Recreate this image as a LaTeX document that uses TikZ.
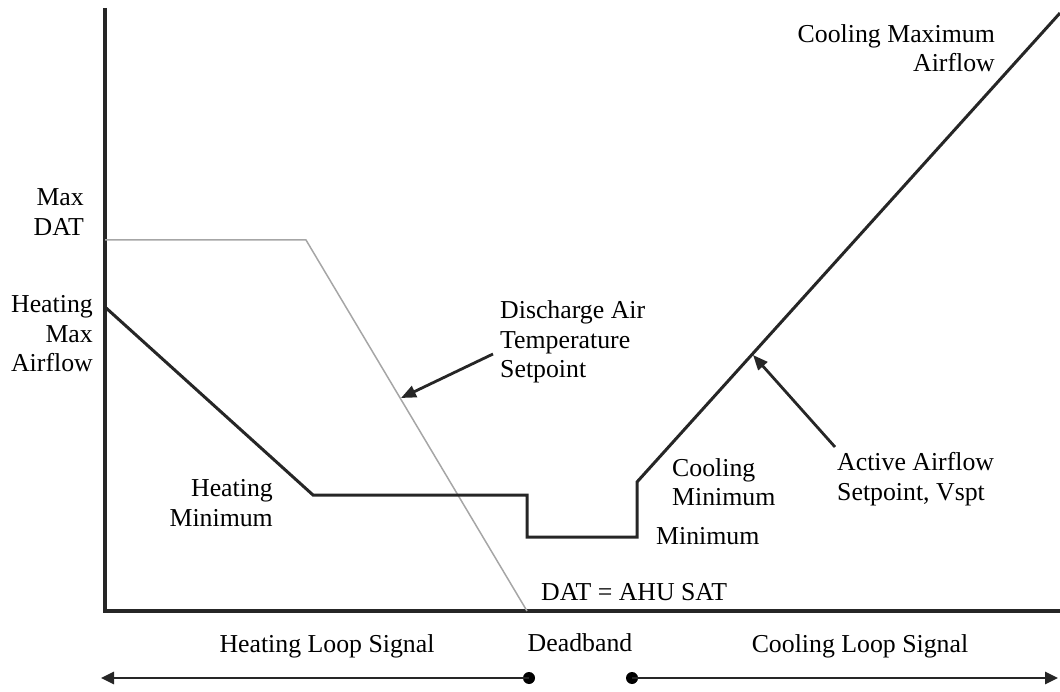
\documentclass[tikz,border=0pt]{standalone}
\usepackage{fontspec}
\setmainfont{Liberation Serif}
\usetikzlibrary{arrows.meta}
\begin{document}
\begin{tikzpicture}[x=1pt,y=-1pt,
  lbl/.style={inner sep=0pt,font=\fontsize{25.8}{29.5}\selectfont},
  axisline/.style={line width=3.2pt,black!85},
  curve/.style={line width=3pt,black!85,line join=miter},
  datline/.style={line width=1.5pt,black!35},
  pointer/.style={line width=2.8pt,black!85,-{Triangle[length=15pt,width=12pt]}},
  spanarrow/.style={line width=2.8pt,black!85,-{Triangle[length=13pt,width=12pt]}},
  enddot/.style={circle,fill=black,inner sep=0pt,minimum size=12pt}]
\useasboundingbox (0,0) rectangle (1060,692);
% axes
\coordinate (ytop) at (105,8);
\coordinate (orig) at (105,611);
\coordinate (xend) at (1060,611);
\draw[axisline] (ytop) -- (orig) -- (xend);
% discharge air temperature line
\coordinate (d1) at (105,240);
\coordinate (d2) at (306,240);
\coordinate (d3) at (527,611);
\draw[datline] (d1) -- (d2) -- (d3);
% airflow setpoint line
\coordinate (a1) at (105,307);
\coordinate (a2) at (313,495);
\coordinate (a3) at (527,495);
\coordinate (a4) at (527,537);
\coordinate (a5) at (637,537);
\coordinate (a6) at (637,482);
\coordinate (a7) at (1060,13);
\draw[curve] (a1) -- (a2) -- (a3) -- (a4) -- (a5) -- (a6) -- (a7);
% labels
\node[lbl,align=right,anchor=east] (maxdat) at (84,212) {Max\\DAT};
\node[lbl,align=right,anchor=east] (hmax) at (93,334) {Heating\\Max\\Airflow};
\node[lbl,align=left,anchor=west] (dats) at (500,342) {Discharge Air\\Temperature\\Setpoint};
\node[lbl,align=right,anchor=east] (hmin) at (273,503) {Heating\\Minimum};
\node[lbl,align=left,anchor=west] (cmin) at (672,482) {Cooling\\Minimum};
\node[lbl,anchor=west] (mini) at (656,536) {Minimum};
\node[lbl,anchor=west] (sat) at (541,592) {DAT = AHU SAT};
\node[lbl,align=left,anchor=west] (aas) at (837,479) {Active Airflow\\Setpoint, Vspt};
\node[lbl,align=right,anchor=east] (cmax) at (995,48) {Cooling Maximum\\Airflow};
\node[lbl] (hls) at (327,646) {Heating Loop Signal};
\node[lbl] (db) at (580,643) {Deadband};
\node[lbl] (cls) at (860,646) {Cooling Loop Signal};
% pointers
\coordinate (p1s) at (493,354);
\coordinate (p1e) at (401,398);
\draw[pointer] (p1s) -- (p1e);
\coordinate (p2s) at (835,447);
\coordinate (p2e) at (753,355);
\draw[pointer] (p2s) -- (p2e);
% loop signal ranges
\node[enddot] (dl) at (529,678) {};
\node[enddot] (dr) at (632,678) {};
\coordinate (ltip) at (101,678);
\coordinate (rtip) at (1058,678);
\draw[spanarrow] (dl.center) -- (ltip);
\draw[spanarrow] (dr.center) -- (rtip);
\end{tikzpicture}
\end{document}
